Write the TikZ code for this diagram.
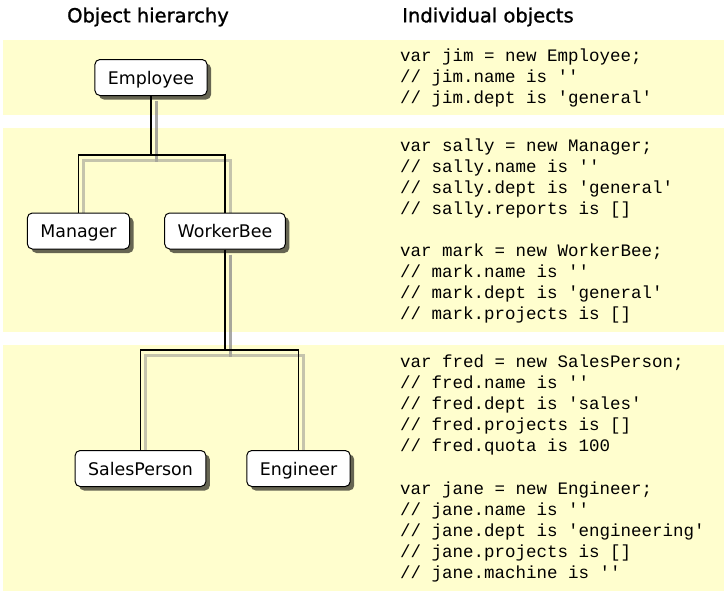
\documentclass[tikz,border=0pt]{standalone}
\usepackage{fontspec}
\usepackage{tikz}
\usetikzlibrary{shadows}
\setsansfont{DejaVu Sans}
\setmonofont{Liberation Mono}
\newfontfamily\titlefont[FakeBold=1.2]{DejaVu Sans}
\definecolor{bandyellow}{HTML}{FFFECE}
\pgfdeclarelayer{background}
\pgfsetlayers{background,main}
\tikzstyle{class}=[rectangle,draw=black,line width=1pt,rounded corners=5pt,fill=white,minimum height=36pt,inner xsep=13pt,text height=13pt,text depth=0pt,font=\sffamily\fontsize{17.4}{20}\selectfont,drop shadow={shadow xshift=4pt,shadow yshift=-4pt,opacity=0.6,fill=black}]
\tikzstyle{title}=[font=\titlefont\fontsize{19.5}{23}\selectfont]
\tikzstyle{code}=[anchor=base west,inner sep=0pt,font=\ttfamily\fontsize{17.5}{21}\selectfont]
\tikzstyle{band}=[fill=bandyellow]
\tikzstyle{edge} = [draw,line width=1.2pt,-]
\tikzstyle{edge shadow} = [draw,line width=3pt,black!45,opacity=0.5,transform canvas={shift={(5pt,-5pt)}}]

\begin{document}
\begin{tikzpicture}[x=1pt,y=-1pt]
    % Fix the size of the picture
    \useasboundingbox (0,0) rectangle (724,595);
    % Titles of the two columns
    \node[title] (hierarchy) at (148,17) {Object hierarchy};
    \node[title] (objects) at (488,17) {Individual objects};

    % First we draw the classes
    \foreach \pos/\name in {{(151,77.5)/Employee}, {(78.5,231)/Manager}, {(225,231)/WorkerBee}, {(140.5,468.5)/SalesPerson}, {(298.5,468.5)/Engineer}}
        \node[class] (\name) at \pos {\name};

    % Where the branches split
    \coordinate (Employee-join) at (151,155);
    \coordinate (WorkerBee-join) at (225,350);

    % Connect classes with edges
    \foreach \source/\dest in {Employee/Manager, Employee/WorkerBee, WorkerBee/SalesPerson, WorkerBee/Engineer}
        \path[edge] (\source.south) |- (\source-join) -| (\dest.north);

    % Bands and edge shadows go behind
    \begin{pgfonlayer}{background}
        \foreach \ytop/\ybot in {40/115, 128/332, 345/591}
            \fill[band] (3,\ytop) rectangle (724,\ybot);
        \foreach \source/\dest in {Employee/Manager, Employee/WorkerBee, WorkerBee/SalesPerson, WorkerBee/Engineer}
            \path[edge shadow] (\source.south) |- (\source-join) -| (\dest.north);
    \end{pgfonlayer}

    % Then the objects, one line at a time
    \foreach \txt [count=\i] in {var jim = new Employee;, // jim.name is '', // jim.dept is 'general'}
        \node[code] (jim-\i) at (400,40.5+21*\i) {\txt};
    \foreach \txt [count=\i] in {var sally = new Manager;, // sally.name is '', // sally.dept is 'general', // sally.reports is []}
        \node[code] (sally-\i) at (400,130.5+21*\i) {\txt};
    \foreach \txt [count=\i] in {var mark = new WorkerBee;, // mark.name is '', // mark.dept is 'general', // mark.projects is []}
        \node[code] (mark-\i) at (400,235.5+21*\i) {\txt};
    \foreach \txt [count=\i] in {var fred = new SalesPerson;, // fred.name is '', // fred.dept is 'sales', // fred.projects is [], // fred.quota is 100}
        \node[code] (fred-\i) at (400,346.5+21*\i) {\txt};
    \foreach \txt [count=\i] in {var jane = new Engineer;, // jane.name is '', // jane.dept is 'engineering', // jane.projects is [], // jane.machine is ''}
        \node[code] (jane-\i) at (400,473.5+21*\i) {\txt};
\end{tikzpicture}
\end{document}
